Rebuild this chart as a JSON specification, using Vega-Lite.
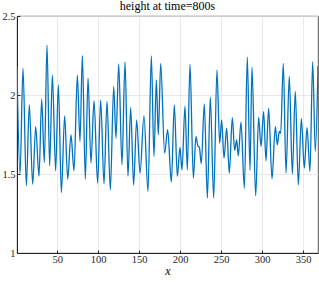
{
  "$schema": "https://vega.github.io/schema/vega-lite/v6.json",
  "width": 301,
  "height": 237,
  "autosize": {"type": "none"},
  "padding": {"left": 17, "top": 16, "right": 1, "bottom": 29},
  "background": "white",
  "title": {"text": "height at time=800s", "font": "Liberation Serif", "fontSize": 12, "fontWeight": "normal", "color": "#000000", "offset": 4, "dy": 6},
  "config": {
    "view": {"stroke": "#262626", "strokeWidth": 0.8},
    "axis": {
      "labelFont": "Liberation Serif", "labelFontSize": 10.5, "labelColor": "#262626",
      "titleFont": "Liberation Serif", "titleFontSize": 12, "titleFontStyle": "italic", "titleFontWeight": "normal", "titleColor": "#000000",
      "domainColor": "#262626", "tickColor": "#262626", "tickSize": -3,
      "gridColor": "#e3e3e3", "gridWidth": 0.8
    }
  },
  "data": {"values": [
    {"x": 1.0, "h": 2.18}, {"x": 4.7, "h": 1.50}, {"x": 8.3, "h": 2.17}, {"x": 12.4, "h": 1.426},
    {"x": 16.0, "h": 1.938}, {"x": 20.1, "h": 1.436}, {"x": 23.8, "h": 1.80}, {"x": 27.8, "h": 1.485},
    {"x": 31.1, "h": 1.973}, {"x": 34.3, "h": 1.573}, {"x": 37.6, "h": 2.315}, {"x": 40.8, "h": 1.552},
    {"x": 44.1, "h": 2.125}, {"x": 48.1, "h": 1.52}, {"x": 51.4, "h": 2.064}, {"x": 55.1, "h": 1.383},
    {"x": 59.1, "h": 1.868}, {"x": 62.8, "h": 1.468}, {"x": 66.8, "h": 1.748}, {"x": 70.5, "h": 1.52},
    {"x": 74.6, "h": 2.125}, {"x": 77.8, "h": 1.706}, {"x": 80.7, "h": 2.25}, {"x": 84.3, "h": 1.468},
    {"x": 87.6, "h": 2.106}, {"x": 91.2, "h": 1.569}, {"x": 94.9, "h": 1.965}, {"x": 99.3, "h": 1.443},
    {"x": 103.0, "h": 1.969}, {"x": 107.1, "h": 1.438}, {"x": 110.7, "h": 1.959}, {"x": 114.8, "h": 1.40},
    {"x": 118.9, "h": 2.053}, {"x": 121.7, "h": 1.727}, {"x": 125.0, "h": 2.197}, {"x": 129.0, "h": 1.558},
    {"x": 132.7, "h": 2.21}, {"x": 136.3, "h": 1.485}, {"x": 139.6, "h": 1.92}, {"x": 143.2, "h": 1.43},
    {"x": 146.9, "h": 1.843}, {"x": 151.0, "h": 1.506}, {"x": 155.8, "h": 1.868}, {"x": 160.7, "h": 1.39},
    {"x": 164.8, "h": 2.247}, {"x": 168.0, "h": 1.611}, {"x": 170.9, "h": 2.096}, {"x": 173.3, "h": 1.748},
    {"x": 176.2, "h": 2.20}, {"x": 181.0, "h": 1.632}, {"x": 184.7, "h": 1.78}, {"x": 189.2, "h": 1.447},
    {"x": 192.8, "h": 1.938}, {"x": 196.5, "h": 1.485}, {"x": 199.7, "h": 1.668}, {"x": 202.2, "h": 1.527},
    {"x": 205.8, "h": 1.93}, {"x": 208.7, "h": 1.527}, {"x": 211.9, "h": 2.195}, {"x": 216.0, "h": 1.474},
    {"x": 219.2, "h": 1.737}, {"x": 221.7, "h": 1.675}, {"x": 223.3, "h": 1.67}, {"x": 225.7, "h": 1.565},
    {"x": 229.4, "h": 1.944}, {"x": 233.1, "h": 1.348}, {"x": 236.7, "h": 1.986}, {"x": 240.8, "h": 1.348},
    {"x": 244.8, "h": 2.158}, {"x": 248.1, "h": 1.695}, {"x": 250.5, "h": 1.843}, {"x": 253.4, "h": 1.60},
    {"x": 256.6, "h": 1.79}, {"x": 259.9, "h": 1.506}, {"x": 263.5, "h": 1.857}, {"x": 266.4, "h": 1.649},
    {"x": 268.8, "h": 1.716}, {"x": 270.8, "h": 1.615}, {"x": 274.1, "h": 1.828}, {"x": 278.2, "h": 1.41},
    {"x": 281.8, "h": 2.239}, {"x": 285.1, "h": 1.523}, {"x": 287.5, "h": 2.176}, {"x": 292.0, "h": 1.362},
    {"x": 295.6, "h": 1.86}, {"x": 298.5, "h": 1.674}, {"x": 301.7, "h": 1.895}, {"x": 304.6, "h": 1.584},
    {"x": 307.8, "h": 1.916}, {"x": 311.9, "h": 1.47}, {"x": 316.0, "h": 1.80}, {"x": 318.4, "h": 1.685},
    {"x": 320.8, "h": 1.769}, {"x": 322.5, "h": 1.758}, {"x": 325.7, "h": 2.20}, {"x": 329.0, "h": 1.506},
    {"x": 333.0, "h": 2.117}, {"x": 336.7, "h": 1.50}, {"x": 340.3, "h": 2.022}, {"x": 344.0, "h": 1.432},
    {"x": 347.7, "h": 1.85}, {"x": 351.3, "h": 1.537}, {"x": 354.6, "h": 1.794}, {"x": 358.2, "h": 1.516},
    {"x": 361.5, "h": 2.211}, {"x": 364.7, "h": 1.643}, {"x": 368.0, "h": 2.184}
  ]},
  "mark": {"type": "line", "color": "#0072BD", "strokeWidth": 1.3, "interpolate": "monotone", "clip": true},
  "encoding": {
    "x": {"field": "x", "type": "quantitative",
      "scale": {"domain": [1, 368], "nice": false, "zero": false},
      "axis": {"title": "x", "values": [50, 100, 150, 200, 250, 300, 350], "labelPadding": 4, "titlePadding": 1, "grid": true}},
    "y": {"field": "h", "type": "quantitative",
      "scale": {"domain": [1, 2.5], "nice": false, "zero": false},
      "axis": {"title": null, "values": [1, 1.5, 2, 2.5], "format": "~g", "labelPadding": 5, "grid": true, "labelFlush": false}}
  }
}
